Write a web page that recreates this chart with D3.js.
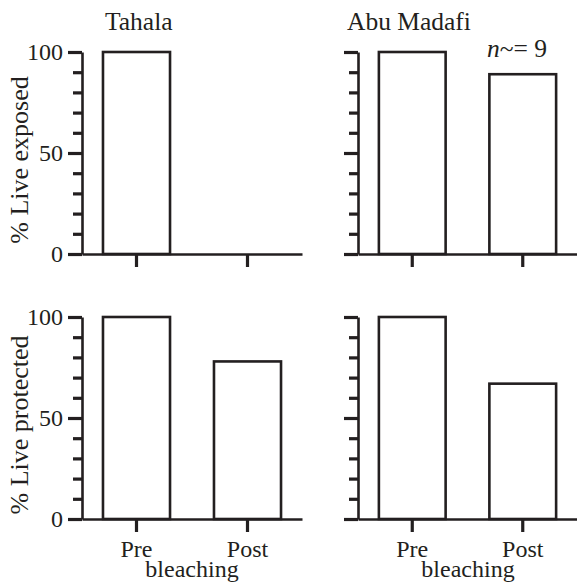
<!DOCTYPE html>
<html><head><meta charset="utf-8">
<script src="https://cdn.jsdelivr.net/npm/d3@7"></script>
<style>
body{margin:0;background:#fff;}
</style></head>
<body><svg id="c" width="577" height="586"></svg>
<script>
const categories = ["Pre", "Post"];
const sites = ["Tahala", "Abu Madafi"];
const rows = ["exposed", "protected"];
const rowLabels = ["% Live exposed", "% Live protected"];
const exposedValues = [[100, 0], [100, 89]];
const protectedValues = [[100, 78], [100, 67]];
const majorTicks = [0, 50, 100];
const minorTicks = [10, 20, 30, 40, 60, 70, 80, 90];
const xAxisTitle = "bleaching";
const annotation = "= 9";

const FONT = "'Liberation Serif'";
const svg = d3.select("#c");
const ink = "#231f20";
const panelX = [82, 358];
const panelW = [220, 219];
const panelTop = [52, 317];
const panelH = 202;

const values = [exposedValues, protectedValues];

rows.forEach((r, ri) => {
  const y = d3.scaleLinear().domain([0, 100]).range([panelTop[ri] + panelH, panelTop[ri]]);
  sites.forEach((s, si) => {
    const x0 = panelX[si];
    const x = d3.scaleBand().domain(categories).range([x0, x0 + panelW[si]])
      .paddingInner(0.396).paddingOuter(0.189);
    const g = svg.append("g");
    g.selectAll("rect").data(categories.map((c, i) => ({c, v: values[ri][si][i]})))
      .join("rect")
      .attr("x", d => x(d.c)).attr("width", x.bandwidth())
      .attr("y", d => y(d.v)).attr("height", d => y(0) - y(d.v))
      .attr("fill", "#fff").attr("stroke", ink).attr("stroke-width", 2.6)
      .attr("display", d => d.v > 0 ? null : "none");
    const xa = g.append("g").attr("transform", `translate(0,${y(0)})`)
      .call(d3.axisBottom(x).tickSize(13).tickSizeOuter(0).tickPadding(8)
        .tickFormat(ri === 1 ? (d => d) : () => ""));
    xa.select(".domain").attr("stroke", ink).attr("stroke-width", 2.6);
    xa.selectAll(".tick line").attr("stroke", ink).attr("stroke-width", 3.2);
    xa.selectAll("text").style("font-size", "24px").attr("fill", ink).style("font-family", FONT);
    const ym = g.append("g").attr("transform", `translate(${x0},0)`)
      .call(d3.axisLeft(y).tickValues(minorTicks).tickSize(9).tickSizeOuter(0).tickFormat(() => ""));
    ym.select(".domain").remove();
    ym.selectAll(".tick line").attr("stroke", ink).attr("stroke-width", 3.2);
    const ya = g.append("g").attr("transform", `translate(${x0},0)`)
      .call(d3.axisLeft(y).tickValues(majorTicks).tickSize(14).tickSizeOuter(0).tickPadding(5)
        .tickFormat(si === 0 ? d3.format("d") : () => ""));
    ya.select(".domain").attr("stroke", ink).attr("stroke-width", 2.6);
    ya.selectAll(".tick line").attr("stroke", ink).attr("stroke-width", 3.2);
    ya.selectAll("text").style("font-size", "24px").attr("fill", ink).style("font-family", FONT);
    if (ri === 1) {
      svg.append("text").attr("x", x0 + 110).attr("y", 577)
        .attr("text-anchor", "middle").style("font-size", "24px").style("font-family", FONT)
        .attr("fill", ink).text(xAxisTitle);
    }
    if (ri === 0) {
      svg.append("text").attr("x", x0 + (si === 0 ? 23 : -11)).attr("y", 30)
        .style("font-size", "25.5px").style("font-family", FONT).attr("fill", ink).text(s);
    }
  });
  svg.append("text")
    .attr("transform", `translate(28,${ri === 0 ? 160 : 425}) rotate(-90)`)
    .attr("text-anchor", "middle").style("font-size", "26px").style("font-family", FONT)
    .attr("fill", ink).text(rowLabels[ri]);
});

const ann = svg.append("text").attr("x", 487).attr("y", 57).style("font-size", "25.5px")
  .style("font-family", FONT).attr("fill", ink);
ann.append("tspan").style("font-style", "italic").text("n");
ann.append("tspan").text("~");
ann.append("tspan").text(annotation);
</script></body></html>
